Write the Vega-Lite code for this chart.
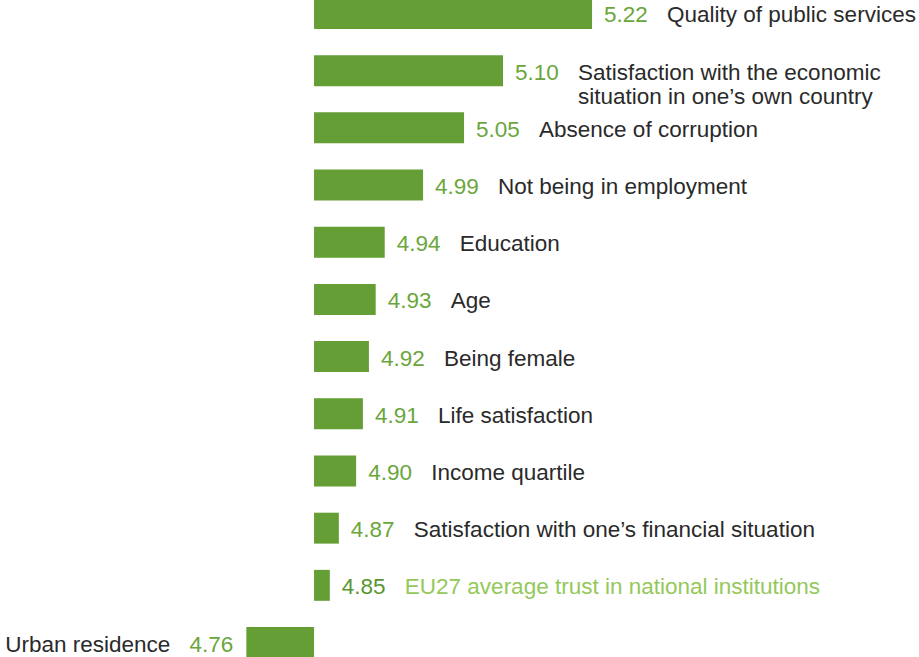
{
  "$schema": "https://vega.github.io/schema/vega-lite/v6.json",
  "width": 919,
  "height": 657,
  "autosize": {"type": "none"},
  "padding": 0,
  "background": "white",
  "config": {"view": {"stroke": null}},
  "data": {
    "values": [
      {"label": "Quality of public services", "value": "5.22", "bar": 5.2197, "group": "factor"},
      {"label": "Satisfaction with the economic\nsituation in one’s own country", "value": "5.10", "bar": 5.1013, "group": "factor"},
      {"label": "Absence of corruption", "value": "5.05", "bar": 5.0495, "group": "factor"},
      {"label": "Not being in employment", "value": "4.99", "bar": 4.995, "group": "factor"},
      {"label": "Education", "value": "4.94", "bar": 4.944, "group": "factor"},
      {"label": "Age", "value": "4.93", "bar": 4.932, "group": "factor"},
      {"label": "Being female", "value": "4.92", "bar": 4.923, "group": "factor"},
      {"label": "Life satisfaction", "value": "4.91", "bar": 4.915, "group": "factor"},
      {"label": "Income quartile", "value": "4.90", "bar": 4.906, "group": "factor"},
      {"label": "Satisfaction with one’s financial situation", "value": "4.87", "bar": 4.883, "group": "factor"},
      {"label": "EU27 average trust in national institutions", "value": "4.85", "bar": 4.871, "group": "average"},
      {"label": "Urban residence", "value": "4.76", "bar": 4.76, "group": "negative"}
    ]
  },
  "encoding": {
    "y": {
      "field": "label",
      "type": "nominal",
      "sort": null,
      "scale": {"paddingInner": 0.459, "paddingOuter": 0, "range": [-2, 658]},
      "axis": null
    }
  },
  "layer": [
    {
      "mark": {"type": "bar", "color": "#659e35"},
      "encoding": {
        "x": {
          "field": "bar",
          "type": "quantitative",
          "scale": {"domain": [4.4324, 5.6545], "nice": false, "zero": false},
          "axis": null
        },
        "x2": {"datum": 4.85}
      }
    },
    {
      "transform": [{"filter": "datum.group !== 'negative'"}],
      "mark": {"type": "text", "align": "left", "baseline": "alphabetic", "dx": 12, "dy": 9, "font": "Liberation Sans", "fontSize": 22.5},
      "encoding": {
        "x": {"field": "bar", "type": "quantitative"},
        "text": {"field": "value"},
        "color": {"condition": {"test": "datum.group === 'average'", "value": "#5a9632"}, "value": "#6aa63c"}
      }
    },
    {
      "transform": [{"filter": "datum.group !== 'negative'"}],
      "mark": {"type": "text", "align": "left", "baseline": "alphabetic", "dx": 75, "dy": 9, "font": "Liberation Sans", "fontSize": 22.5, "lineBreak": "\n", "lineHeight": 24},
      "encoding": {
        "x": {"field": "bar", "type": "quantitative"},
        "text": {"field": "label"},
        "color": {"condition": {"test": "datum.group === 'average'", "value": "#94c85a"}, "value": "#2a2a2a"}
      }
    },
    {
      "transform": [{"filter": "datum.group === 'negative'"}],
      "mark": {"type": "text", "align": "right", "baseline": "alphabetic", "dx": -13, "dy": 9, "font": "Liberation Sans", "fontSize": 22.5, "color": "#6aa63c"},
      "encoding": {
        "x": {"field": "bar", "type": "quantitative"},
        "text": {"field": "value"}
      }
    },
    {
      "transform": [{"filter": "datum.group === 'negative'"}],
      "mark": {"type": "text", "align": "right", "baseline": "alphabetic", "dx": -76, "dy": 9, "font": "Liberation Sans", "fontSize": 22.5, "color": "#2a2a2a"},
      "encoding": {
        "x": {"field": "bar", "type": "quantitative"},
        "text": {"field": "label"}
      }
    }
  ]
}
